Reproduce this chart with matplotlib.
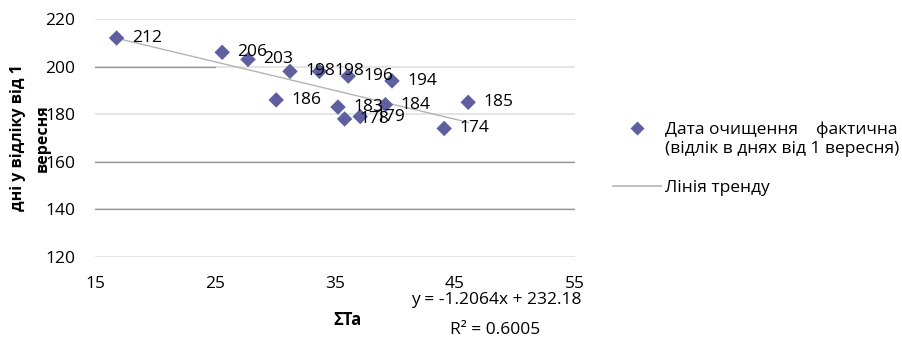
import matplotlib
matplotlib.use("Agg")
import matplotlib.pyplot as plt
from matplotlib.lines import Line2D
from matplotlib.legend_handler import HandlerLine2D
import numpy as np

plt.rcParams['font.family'] = ['Open Sans', 'DejaVu Sans']

# Sum of active temperatures vs. harvest date (days counted from 1 September)
sum_ta = [16.8, 25.6, 27.75, 31.25, 33.7, 36.1, 39.75, 30.1, 35.25, 35.8, 37.1, 39.2, 46.1, 44.1]
harvest_day = [212, 206, 203, 198, 198, 196, 194, 186, 183, 178, 179, 184, 185, 174]

# Linear trend reported alongside the chart
slope = -1.2064
intercept = 232.18
r_squared = 0.6005

x_ticks = [15, 25, 35, 45, 55]
y_ticks = [120, 140, 160, 180, 200, 220]

MARKER_COLOR = '#5f5fa0'
TREND_COLOR = '#b4b4b4'
FS = 12.5


class FirstLineHandler(HandlerLine2D):
    """Puts the legend marker level with the first line of a two-line label."""

    def __init__(self, shift, **kw):
        super().__init__(**kw)
        self.shift = shift

    def create_artists(self, legend, orig_handle, xdescent, ydescent,
                       width, height, fontsize, trans):
        artists = super().create_artists(legend, orig_handle, xdescent, ydescent,
                                         width, height, fontsize, trans)
        for a in artists:
            a.set_ydata(np.asarray(a.get_ydata()) + self.shift)
        return artists


fig = plt.figure(figsize=(9.03, 3.39), dpi=100)
ax = fig.add_axes([95 / 903, 1 - 257 / 339, 480 / 903, 238 / 339])

ax.set_xlim(15, 55)
ax.set_ylim(120, 220)
ax.set_xticks(x_ticks)
ax.set_yticks(y_ticks)
ax.tick_params(length=0, labelsize=FS)
ax.tick_params(axis='y', pad=14)
ax.tick_params(axis='x', pad=14)
for s in ax.spines.values():
    s.set_visible(False)

# light gridlines, a few of them drawn darker
for yv in y_ticks:
    ax.axhline(yv, color='#e2e2e2', lw=1.3, zorder=0)
ax.axhline(200, xmax=0.25, color='#949494', lw=0.9, zorder=0)
ax.axhline(160, color='#949494', lw=0.9, zorder=0)
ax.axhline(140, color='#949494', lw=0.9, zorder=0)

# trend line over the data range
xs = np.array([min(sum_ta), max(sum_ta)])
ax.plot(xs, slope * xs + intercept, color=TREND_COLOR, lw=1.0, zorder=1)

ax.scatter(sum_ta, harvest_day, marker='D', s=62, color=MARKER_COLOR,
           edgecolors='none', zorder=2, clip_on=False)
for xv, yv in zip(sum_ta, harvest_day):
    ax.annotate(str(yv), (xv, yv), xytext=(11, 0), textcoords='offset points',
                ha='left', va='center', fontsize=FS, zorder=3)

ax.set_ylabel("дні у відліку від 1\nвересня", fontsize=11.5, fontweight='bold',
              linespacing=1.75, va='center')
ax.yaxis.set_label_coords(-0.135, 0.5)
ax.set_xlabel("ΣTa", fontsize=12, fontweight='bold', va='center')
ax.xaxis.set_label_coords(0.527, -0.265)

ax.text(0.835, -0.18, f"y = {slope}x + {intercept}", transform=ax.transAxes,
        ha='center', va='center', fontsize=FS)
ax.text(0.833, -0.307, f"R² = {r_squared}", transform=ax.transAxes,
        ha='center', va='center', fontsize=FS)

dot_handle = Line2D([], [], marker='D', ls='none', color=MARKER_COLOR, ms=7.5, mec='none')
trend_handle = Line2D([], [], color=TREND_COLOR, lw=1.2)
labels = ["Дата очищення    фактична\n(відлік в днях від 1 вересня)", "Лінія тренду"]
fig.legend([dot_handle, trend_handle], labels, loc='upper left',
           bbox_to_anchor=(613 / 903, 1 - 122 / 339),
           handler_map={dot_handle: FirstLineHandler(shift=8.5)},
           frameon=False, fontsize=FS, handlelength=2.75, handletextpad=0.25,
           borderpad=0, borderaxespad=0, labelspacing=1.35)

fig.savefig("out.png", dpi=100)
